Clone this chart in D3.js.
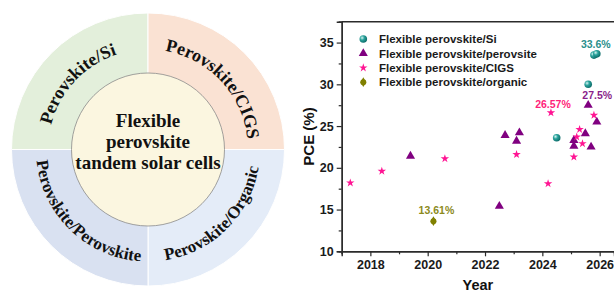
<!DOCTYPE html>
<html>
<head>
<meta charset="utf-8">
<script src="https://cdn.jsdelivr.net/npm/d3@7"></script>
<style>
  body { margin: 0; background: #fff; }
  svg { display: block; }
</style>
</head>
<body>
<svg id="fig" width="614" height="292"></svg>
<script>
// data

const quadrantNames = ["Perovskite/Si", "Perovskite/CIGS", "Perovskite/Organic", "Perovskite/Perovskite"]
const centerLines = ["Flexible", "perovskite", "tandem solar cells"]

const seriesNames = [
  "Flexible perovskite/Si",
  "Flexible perovskite/perovsite",
  "Flexible perovskite/CIGS",
  "Flexible perovskite/organic"
]

const siYear = [2024.5, 2025.6, 2025.8, 2025.9]
const siPCE = [23.6, 30.0, 33.5, 33.65]

const pkYear = [2019.4, 2022.5, 2022.7, 2023.1, 2023.2, 2025.1, 2025.1, 2025.5, 2025.6, 2025.7, 2025.9]
const pkPCE = [21.4, 15.4, 23.9, 23.2, 24.2, 23.3, 22.6, 24.1, 27.5, 22.5, 25.5]

const cigsYear = [2017.3, 2018.4, 2020.6, 2023.1, 2024.2, 2024.3, 2025.1, 2025.2, 2025.3, 2025.4, 2025.8]
const cigsPCE = [18.2, 19.6, 21.1, 21.6, 18.1, 26.6, 21.3, 23.7, 24.6, 22.9, 26.3]

const orgYear = [2020.2]
const orgPCE = [13.61]

const recordLabels = ["33.6%", "27.5%", "26.57%", "13.61%"]

const xTicks = [2018, 2020, 2022, 2024, 2026]
const yTicks = [10, 15, 20, 25, 30, 35]

// left diagram

const svg = d3.select("#fig")
const cx = 148, cy = 149.5, R = 136.5, r = 76.5

const quadColors = ["#e3efdb", "#fae2d3", "#e4ecf8", "#d9e1f1"]
const dia = svg.append("g").attr("transform", `translate(${cx},${cy})`)

const arc = d3.arc().innerRadius(0).outerRadius(R)
quadColors.forEach((c, i) => {
  // order: top-left, top-right, bottom-right, bottom-left
  const start = [-Math.PI / 2, 0, Math.PI / 2, Math.PI][i]
  dia.append("path")
    .attr("d", arc({ startAngle: start, endAngle: start + Math.PI / 2 }))
    .attr("fill", c)
    .attr("stroke", "#fff")
    .attr("stroke-width", 1)
})

dia.append("circle")
  .attr("r", r)
  .attr("fill", "#fbf6e0")
  .attr("stroke", "#8a8a8a")
  .attr("stroke-width", 0.8)

dia.selectAll("text.center")
  .data(centerLines)
  .enter().append("text")
    .attr("class", "center")
    .attr("x", 0)
    .attr("y", (d, i) => -23 + i * 21)
    .attr("text-anchor", "middle")
    .style("font", "bold 19px 'Liberation Serif'")
    .attr("fill", "#111")
    .text(d => d)

// curved labels: centre angle (deg, from top clockwise), outward or not
const pt = (deg, rad) => {
  const a = deg * Math.PI / 180
  return [rad * Math.sin(a), -rad * Math.cos(a)]
}
const textArcs = [
  { mid: -47, top: true },
  { mid: 47, top: true },
  { mid: 135, top: false },
  { mid: 224, top: false }
]
const defs = svg.append("defs")
textArcs.forEach((t, i) => {
  const rad = t.top ? 100 : 112
  const half = 80
  let p
  if (t.top) {
    const a = pt(t.mid - half, rad), b = pt(t.mid + half, rad)
    p = `M${a[0]},${a[1]} A${rad},${rad} 0 0 1 ${b[0]},${b[1]}`
  } else {
    const a = pt(t.mid + half, rad), b = pt(t.mid - half, rad)
    p = `M${a[0]},${a[1]} A${rad},${rad} 0 0 0 ${b[0]},${b[1]}`
  }
  defs.append("path").attr("id", "tp" + i).attr("d", p)
  dia.append("text")
    .style("font", `bold ${t.top ? 18 : 17}px 'Liberation Serif'`)
    .attr("fill", "#111")
  .append("textPath")
    .attr("href", "#tp" + i)
    .attr("startOffset", "50%")
    .attr("text-anchor", "middle")
    .text(quadrantNames[i])
})

// scatter

const margin = { left: 341.7, top: 21.7, right: 614, bottom: 251.3 }

const x = d3.scaleLinear().domain([2017, 2026.5]).range([margin.left, margin.right])
const y = d3.scaleLinear().domain([10, 37.5]).range([margin.bottom, margin.top])

const axisColor = "#2b2b2b"
const plot = svg.append("g")

const styleAxis = g => {
  g.select(".domain").attr("stroke", axisColor).attr("stroke-width", 1.4)
  g.selectAll(".tick line").attr("stroke", axisColor).attr("stroke-width", 1.2)
  g.selectAll(".tick text")
    .attr("fill", "#1a1a1a")
    .style("font", "bold 12.5px 'Liberation Sans'")
}

// minor ticks
plot.append("g")
  .attr("transform", `translate(0,${margin.bottom})`)
  .call(d3.axisBottom(x).tickValues(d3.range(2017, 2027, 2)).tickSize(3).tickFormat(""))
  .call(styleAxis)
plot.append("g")
  .attr("transform", `translate(${margin.left},0)`)
  .call(d3.axisLeft(y).tickValues(d3.range(12.5, 38, 5)).tickSize(3).tickFormat(""))
  .call(styleAxis)

plot.append("g")
  .attr("transform", `translate(0,${margin.bottom})`)
  .call(d3.axisBottom(x).tickValues(xTicks).tickSize(5).tickPadding(4).tickFormat(d3.format("d")))
  .call(styleAxis)
plot.append("g")
  .attr("transform", `translate(${margin.left},0)`)
  .call(d3.axisLeft(y).tickValues(yTicks).tickSize(5).tickPadding(3))
  .call(styleAxis)

plot.append("line")
  .attr("x1", margin.left).attr("x2", margin.right)
  .attr("y1", margin.top).attr("y2", margin.top)
  .attr("stroke", axisColor).attr("stroke-width", 1.4)

plot.append("text")
  .attr("transform", `translate(314,${(margin.top + margin.bottom) / 2}) rotate(-90)`)
  .attr("text-anchor", "middle")
  .style("font", "bold 15px 'Liberation Sans'")
  .attr("fill", "#111")
  .text("PCE (%)")

plot.append("text")
  .attr("x", (margin.left + margin.right) / 2)
  .attr("y", 290)
  .attr("text-anchor", "middle")
  .style("font", "bold 14.5px 'Liberation Sans'")
  .attr("fill", "#111")
  .text("Year")

// markers
const grad = defs.append("radialGradient").attr("id", "ball")
  .attr("cx", "35%").attr("cy", "35%").attr("r", "65%")
grad.append("stop").attr("offset", "0%").attr("stop-color", "#d8f4f2")
grad.append("stop").attr("offset", "45%").attr("stop-color", "#2aa39c")
grad.append("stop").attr("offset", "100%").attr("stop-color", "#0f6f6c")

const colors = ["#1f9a94", "#800080", "#ff1493", "#808000"]
const labelColors = ["#2a8f8c", "#8a1f8a", "#ff1f7a", "#8c8a1c"]

const drawMarker = (sel, k) => {
  if (k === 0) {
    sel.append("circle").attr("r", 3.8).attr("fill", "url(#ball)")
  } else if (k === 1) {
    sel.append("path").attr("d", d3.symbol(d3.symbolTriangle, 36)()).attr("fill", colors[1])
  } else if (k === 2) {
    sel.append("path").attr("d", d3.symbol(d3.symbolStar, 22)()).attr("fill", colors[2])
  } else {
    sel.append("circle").attr("r", 3).attr("fill", colors[3])
    sel.append("path").attr("d", d3.symbol(d3.symbolDiamond, 28)()).attr("fill", colors[3])
  }
}

const series = [
  [siYear, siPCE],
  [pkYear, pkPCE],
  [cigsYear, cigsPCE],
  [orgYear, orgPCE]
]

series.forEach(([xs, ys], k) => {
  xs.forEach((v, i) => {
    const g = plot.append("g").attr("transform", `translate(${x(v)},${y(ys[i])})`)
    drawMarker(g, k)
  })
})

// record labels (above the best point of each series)
const labelOffset = [[-1, -5.5], [9, -6], [2, -5], [3, -7]]
series.forEach(([xs, ys], k) => {
  const i = d3.maxIndex(ys)
  plot.append("text")
    .attr("x", x(xs[i]) + labelOffset[k][0])
    .attr("y", y(ys[i]) + labelOffset[k][1])
    .attr("text-anchor", "middle")
    .style("font", "bold 10.5px 'Liberation Sans'")
    .attr("fill", labelColors[k])
    .text(recordLabels[k])
})

// legend
const legend = plot.append("g").attr("transform", "translate(363.3,39)")
seriesNames.forEach((name, k) => {
  const row = legend.append("g").attr("transform", `translate(0,${k * 14.4})`)
  drawMarker(row, k)
  row.append("text")
    .attr("x", 15.7)
    .attr("dy", "0.36em")
    .style("font", "bold 11.5px 'Liberation Sans'")
    .attr("fill", "#1a1a1a")
    .text(name)
})
</script>
</body>
</html>
